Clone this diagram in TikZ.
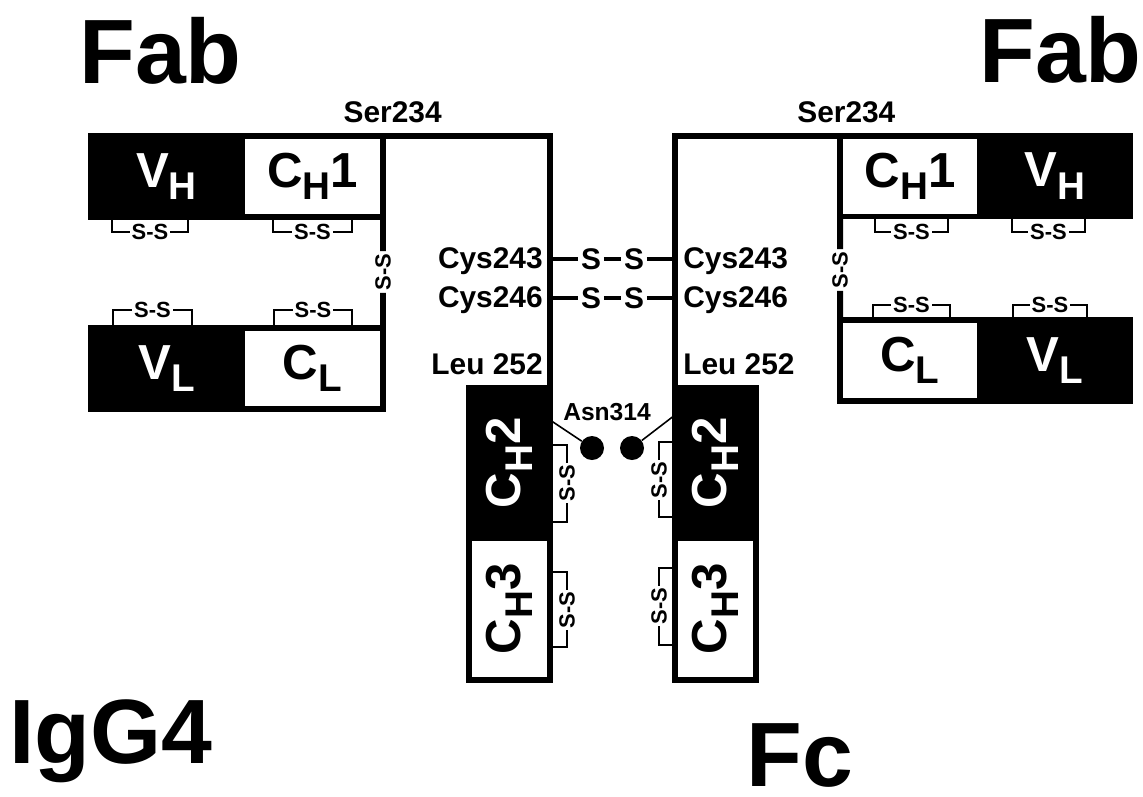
\documentclass[tikz,border=0pt]{standalone}
\usepackage{fontspec}
\setmainfont{Liberation Sans}
\usepackage{tikz}

\newcommand{\dom}[3]{#1\raisebox{-0.25em}{\fontsize{22}{22}\selectfont #2}#3}

\begin{document}
\begin{tikzpicture}[
        x=0.02cm, y=-0.02cm,
        font=\bfseries,
        dombox/.style={draw, line width=3.4pt, outer sep=0pt, inner sep=0pt, minimum height=1.62cm, font=\bfseries\fontsize{28}{28}\selectfont},
        vbox/.style={dombox, fill=black, text=white},
        cbox/.style={dombox, fill=white},
        big/.style={font=\bfseries\fontsize{52}{52}\selectfont, inner sep=0pt},
        res/.style={font=\bfseries\fontsize{17}{17}\selectfont, inner sep=0pt},
        sulf/.style={font=\bfseries\fontsize{17}{17}\selectfont, inner sep=1.5pt},
        ss/.style={font=\bfseries\fontsize{12.5}{12.5}\selectfont, fill=white, inner sep=1.2pt},
        brk/.style={line width=1.1pt},
        chain/.style={line width=3.4pt},
        bond/.style={line width=2.2pt},
        glyc/.style={circle, fill=black, minimum size=0.48cm, inner sep=0pt}
    ]
        \useasboundingbox (0,0) rectangle (1143,796);

        \node[big, anchor=base west] (fabl) at (79,83) {Fab};
        \node[big, anchor=base west] (fabr) at (979,82) {Fab};
        \node[big, anchor=base west] (igg) at (9,763) {IgG4};
        \node[big, anchor=base west] (fc) at (746,786) {Fc};

        \node[vbox, minimum width=3.02cm] (vhl) at (166.5,176.5) {\dom{V}{H}{}};
        \node[cbox, minimum width=2.82cm] (chl) at (312.5,176.5) {\dom{C}{H}{1}};
        \node[vbox, minimum width=3.02cm] (vll) at (166.5,368.5) {\dom{V}{L}{}};
        \node[cbox, minimum width=2.82cm] (cll) at (312.5,368.5) {\dom{C}{L}{}};

        \node[cbox, minimum width=2.8cm] (chr) at (910,176) {\dom{C}{H}{1}};
        \node[vbox, minimum width=3.0cm] (vhr) at (1055,176) {\dom{V}{H}{}};
        \node[cbox, minimum width=2.8cm] (clr) at (910,360.5) {\dom{C}{L}{}};
        \node[vbox, minimum width=3.0cm] (vlr) at (1055,360.5) {\dom{V}{L}{}};

        \node[vbox, minimum width=1.62cm, minimum height=3cm] (c2l) at (509.5,463) {\rotatebox{90}{\dom{C}{H}{2}}};
        \node[cbox, minimum width=1.62cm, minimum height=2.84cm] (c3l) at (509.5,609) {\rotatebox{90}{\dom{C}{H}{3}}};
        \node[vbox, minimum width=1.62cm, minimum height=3cm] (c2r) at (715.5,463) {\rotatebox{90}{\dom{C}{H}{2}}};
        \node[cbox, minimum width=1.62cm, minimum height=2.84cm] (c3r) at (715.5,609) {\rotatebox{90}{\dom{C}{H}{3}}};

        \draw[chain] (chl.north east) -- (chl.north east -| c2l.north east) -- (c2l.north east);
        \draw[chain] (chr.north west) -- (chr.north west -| c2r.north west) -- (c2r.north west);

        \node[ss, rotate=90] (hll) at (383,272) {S-S};
        \node[ss, rotate=90] (hlr) at (840,270) {S-S};
        \draw[chain] (chl.south east) -- (hll) -- (cll.north east);
        \draw[chain] (chr.south west) -- (hlr) -- (clr.north west);

        \node[res, anchor=base east] (serl) at (442,122) {Ser234};
        \node[res, anchor=base west] (serr) at (797,122) {Ser234};
        \node[res, anchor=base east] (cys243l) at (543,268) {Cys243};
        \node[res, anchor=base east] (cys246l) at (543,307) {Cys246};
        \node[res, anchor=base east] (leul) at (543,374) {Leu 252};
        \node[res, anchor=base west] (cys243r) at (683,268) {Cys243};
        \node[res, anchor=base west] (cys246r) at (683,307) {Cys246};
        \node[res, anchor=base west] (leur) at (683,374) {Leu 252};

        \coordinate (b243l) at (550,259);
        \coordinate (b243r) at (675,259);
        \coordinate (b246l) at (550,298);
        \coordinate (b246r) at (675,298);
        \node[sulf] (s243a) at (591,259) {S};
        \node[sulf] (s243b) at (634,259) {S};
        \node[sulf] (s246a) at (591,298) {S};
        \node[sulf] (s246b) at (634,298) {S};
        \draw[bond] (b243l) -- (s243a) -- (s243b) -- (b243r);
        \draw[bond] (b246l) -- (s246a) -- (s246b) -- (b246r);

        \node[font=\bfseries\fontsize{14}{14}\selectfont, anchor=base, inner sep=0pt] (asn) at (607,420) {Asn314};
        \node[glyc] (gl) at (592,448) {};
        \node[glyc] (gr) at (632,448) {};
        \coordinate (asnl) at (550,420);
        \coordinate (asnr) at (675,415);
        \draw[line width=0.9pt] (asnl) -- (gl);
        \draw[line width=0.9pt] (asnr) -- (gr);

        \draw[brk] (112,217) |- (188,232) -- (188,217);
        \draw[brk] (273,217) |- (352,232) -- (352,217);
        \draw[brk] (113,328) |- (192,310) -- (192,328);
        \draw[brk] (274,328) |- (352,310) -- (352,328);
        \draw[brk] (875,216) |- (948,232) -- (948,216);
        \draw[brk] (1012,216) |- (1085,232) -- (1085,216);
        \draw[brk] (873,321) |- (950,305) -- (950,321);
        \draw[brk] (1013,321) |- (1087,305) -- (1087,321);
        \node[ss] (ssvhl) at (150,232) {S-S};
        \node[ss] (sschl) at (312.5,232) {S-S};
        \node[ss] (ssvll) at (152.5,310) {S-S};
        \node[ss] (sscll) at (313,310) {S-S};
        \node[ss] (sschr) at (911.5,232) {S-S};
        \node[ss] (ssvhr) at (1048.5,232) {S-S};
        \node[ss] (ssclr) at (911.5,305) {S-S};
        \node[ss] (ssvlr) at (1050,305) {S-S};

        \draw[brk] (550,445) -| (567,522) -- (550,522);
        \draw[brk] (550,572) -| (567,647) -- (550,647);
        \draw[brk] (675,442) -| (659,517) -- (675,517);
        \draw[brk] (675,568) -| (659,645) -- (675,645);
        \node[ss, rotate=90] (ss2l) at (567,483) {S-S};
        \node[ss, rotate=90] (ss3l) at (567,610) {S-S};
        \node[ss, rotate=90] (ss2r) at (659,480) {S-S};
        \node[ss, rotate=90] (ss3r) at (659,606) {S-S};
    \end{tikzpicture}
\end{document}
